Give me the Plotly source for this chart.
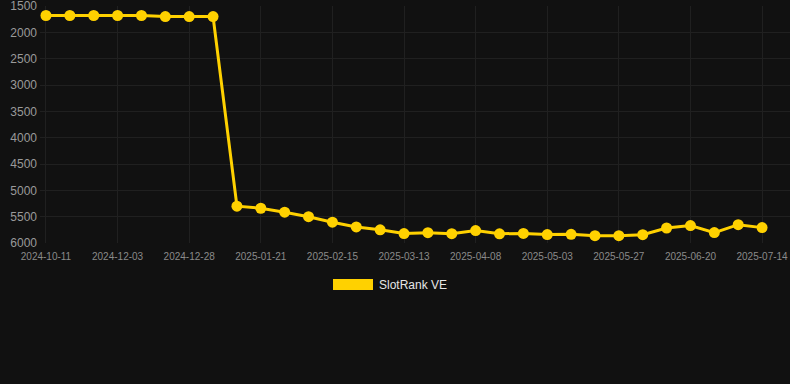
import plotly.graph_objects as go

dates = [
    "2024-10-11", "2024-10-29", "2024-11-15", "2024-12-03", "2024-12-11",
    "2024-12-20", "2024-12-28", "2025-01-05", "2025-01-13", "2025-01-21",
    "2025-01-29", "2025-02-07", "2025-02-15", "2025-02-24", "2025-03-04",
    "2025-03-13", "2025-03-21", "2025-03-30", "2025-04-08", "2025-04-16",
    "2025-04-25", "2025-05-03", "2025-05-11", "2025-05-19", "2025-05-27",
    "2025-06-04", "2025-06-12", "2025-06-20", "2025-06-28", "2025-07-06",
    "2025-07-14",
]
rank = [
    1680, 1680, 1680, 1680, 1680, 1700, 1700, 1700,
    5300, 5340, 5415, 5500, 5605, 5695, 5750, 5820, 5805, 5822,
    5765, 5825, 5818, 5840, 5836, 5860, 5860, 5842, 5715, 5670,
    5802, 5652, 5708,
]
tick_dates = dates[::3]
y_ticks = [1500, 2000, 2500, 3000, 3500, 4000, 4500, 5000, 5500, 6000]
series_name = "SlotRank VE"

GOLD = "#FFD100"
BG = "#111111"
GRID = "#202020"

fig = go.Figure()
fig.add_trace(go.Scatter(
    x=dates, y=rank, mode="lines+markers", name=series_name,
    line=dict(color=GOLD, width=3),
    marker=dict(color=GOLD, size=11),
    showlegend=False, hoverinfo="x+y",
))

fig.update_layout(
    width=790, height=384,
    paper_bgcolor=BG, plot_bgcolor=BG,
    margin=dict(l=40, r=0, t=6, b=141),
    font=dict(family="Liberation Sans, Arial, sans-serif"),
    xaxis=dict(
        type="category", range=[-0.25, 31.17],
        tickmode="array", tickvals=tick_dates, ticktext=tick_dates,
        showgrid=True, gridcolor=GRID, gridwidth=1,
        zeroline=False, showline=False, ticks="",
        tickfont=dict(size=10, color="#8a8a8a"),
        ticklabelstandoff=6,
    ),
    yaxis=dict(
        range=[6000, 1499.5], tickmode="array", tickvals=y_ticks,
        showgrid=True, gridcolor=GRID, gridwidth=1,
        zeroline=False, showline=False, ticks="",
        tickfont=dict(size=12, color="#9a9a9a"),
        ticklabelstandoff=2, ticklabeloverflow="allow",
    ),
)

# legend swatch and label
fig.add_shape(type="rect", xref="paper", yref="paper",
              x0=(333 - 40) / 750, x1=(373 - 40) / 750,
              y0=(243 - 290) / 237, y1=(243 - 279) / 237,
              fillcolor=GOLD, line=dict(width=0))
fig.add_annotation(xref="paper", yref="paper",
                   x=(377 - 40) / 750, y=(243 - 285) / 237,
                   text=series_name, showarrow=False,
                   xanchor="left", yanchor="middle",
                   font=dict(size=12, color="#e6e6e6"))

fig.write_html(
    "out.html",
    config={"displayModeBar": False},
    post_script="document.body.style.margin='0';document.body.style.background='#111111';",
)
